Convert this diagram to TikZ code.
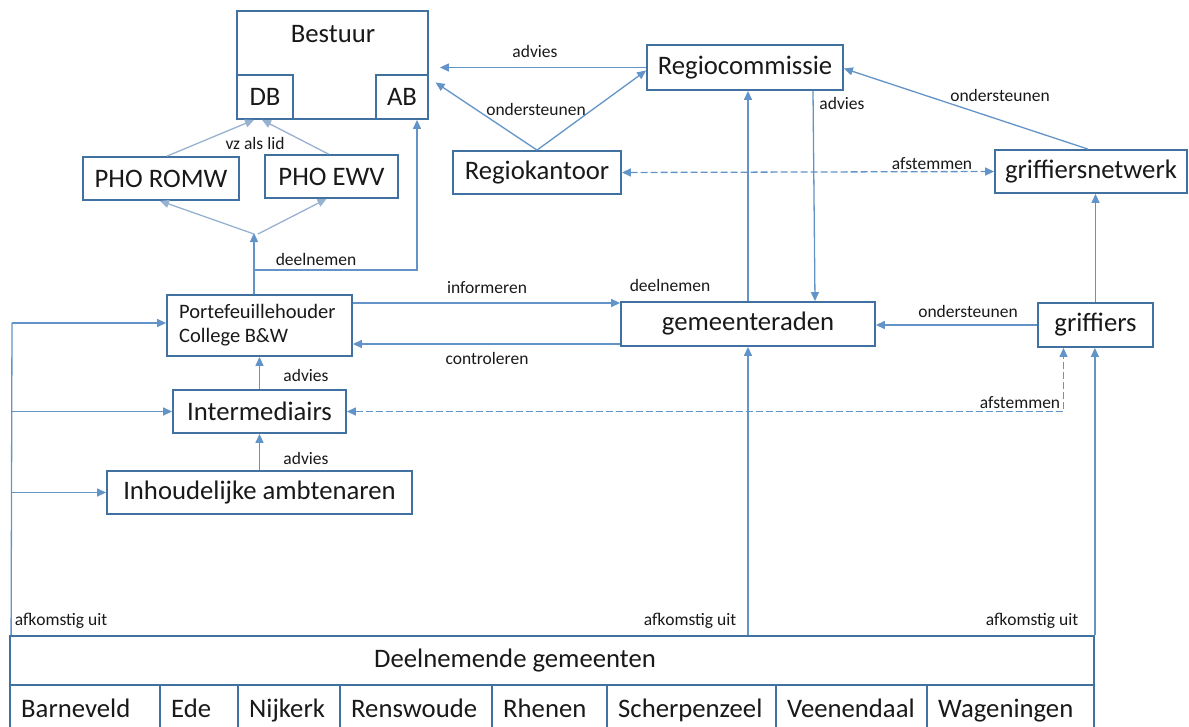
\documentclass[tikz,border=0pt]{standalone}
\usepackage{fontspec}
\setmainfont{Carlito}
\usetikzlibrary{arrows.meta,calc}
\definecolor{boxc}{RGB}{65,113,160}
\definecolor{arrc}{RGB}{98,148,200}
\definecolor{lightc}{RGB}{150,178,208}
\definecolor{txtc}{RGB}{25,25,25}
\tikzset{
  box/.style={draw=boxc,line width=1.8pt,fill=white,inner sep=0pt,text=txtc,font=\fontsize{26.7}{30}\selectfont},
  cell/.style={draw=boxc,line width=1.8pt,fill=white,inner sep=0pt,text=txtc,font=\fontsize{26.7}{30}\selectfont},
  lbl/.style={text=txtc,inner sep=0pt,font=\fontsize{17.5}{20}\selectfont},
  big/.style={text=txtc,inner sep=0pt,font=\fontsize{26.7}{30}\selectfont},
  arr/.style={draw=arrc,line width=1.3pt,-{Triangle[length=9pt,width=8pt]}},
  thin/.style={draw=arrc,line width=1.3pt},
  larr/.style={draw=lightc,line width=1.3pt,-{Triangle[length=9pt,width=8pt]}},
  darr/.style={draw=arrc,line width=1.3pt,dash pattern=on 7pt off 3pt,{Triangle[length=9pt,width=8pt]}-{Triangle[length=9pt,width=8pt]}},
}
\begin{document}
\begin{tikzpicture}[x=1pt,y=-1pt]
\useasboundingbox (0,0) rectangle (1189,726);
% Bestuur
\node[box,minimum width=191pt,minimum height=108pt] (bestuur) at (332.5,65) {};
\node[big] (bestuurtxt) at (333,34) {Bestuur};
\node[box,minimum width=56pt,minimum height=44pt] (db) at (265,97) {DB};
\node[box,minimum width=52pt,minimum height=44pt] (ab) at (402,97) {AB};
% PHO
\node[box,minimum width=156pt,minimum height=43pt] (romw) at (161,178.5) {PHO ROMW};
\node[box,minimum width=133pt,minimum height=43pt] (ewv) at (331.5,176.5) {PHO EWV};
% Regio
\node[box,minimum width=196pt,minimum height=45pt] (regio) at (745,67.5) {Regiocommissie};
\node[box,minimum width=168pt,minimum height=43pt] (rk) at (537,172.5) {Regiokantoor};
\node[box,minimum width=192pt,minimum height=43pt] (gn) at (1091,171.5) {griffiersnetwerk};
% middle
\node[box,minimum width=185pt,minimum height=61pt] (pf) at (259.5,325.5) {};
\node[text=txtc,inner sep=0pt,align=left,anchor=west,font=\fontsize{20.5}{24}\selectfont] (pftxt) at (179,325.5) {Portefeuillehouder\\College B\&W};
\node[box,minimum width=254pt,minimum height=44pt] (gr) at (748,324) {gemeenteraden};
\node[box,minimum width=115pt,minimum height=44pt] (gf) at (1095.5,325) {griffiers};
\node[box,minimum width=173pt,minimum height=43pt] (im) at (259.5,411.5) {Intermediairs};
\node[box,minimum width=305pt,minimum height=43pt] (inh) at (259.5,492.5) {Inhoudelijke ambtenaren};
% bottom
\node[box,minimum width=1084pt,minimum height=49pt] (dg) at (552,660.5) {};
\node[big] (dgtxt) at (515,660.5) {Deelnemende gemeenten};
\foreach \a/\b/\t [count=\i] in {10/160/Barneveld,160/238/Ede,238/340/Nijkerk,340/492/Renswoude,492/607/Rhenen,607/776/Scherpenzeel,776/927/Veenendaal,927/1094/Wageningen}{
  \pgfmathsetmacro{\w}{\b-\a}
  \pgfmathsetmacro{\m}{(\a+\b)/2}
  \pgfmathsetmacro{\tx}{\a+11}
  \node[cell,minimum width=\w pt,minimum height=46pt] (c\i) at (\m,708) {};
  \node[big,anchor=base west] (ct\i) at (\tx,717) {\t};
}
% Bestuur connections
\draw[arr,shorten >=11pt] (regio.west) -- (regio.west -| bestuur.east);
\node[lbl] (l1) at (535,51) {advies};
\draw[arr,shorten >=8pt] (rk.north) -- ([yshift=-13pt]bestuur.east);
\draw[arr] (rk.north) -- ([yshift=-3pt]regio.west);
\node[lbl] (l2) at (536,109) {ondersteunen};
\draw[darr] (rk.east) -- (gn.west);
\node[lbl] (l3) at (932,164) {afstemmen};
\draw[arr] ([xshift=-3pt]gn.north) -- ([yshift=-1pt]regio.east);
\node[lbl] (l4) at (1000,95) {ondersteunen};
\draw[arr] ([xshift=68pt]regio.south) -- ([xshift=67pt]gr.north);
\node[lbl] (l5) at (842,103) {advies};
\draw[arr] (gr.north) -- (gr.north |- regio.south);
\node[lbl] (l6) at (670,285) {deelnemen};
\draw[arr] (gf.west) -- (gf.west -| gr.east);
\node[lbl] (l7) at (968,311) {ondersteunen};
\draw[arr] (gf.north) -- (gf.north |- gn.south);
% PHO / DB
\draw[larr] ([xshift=6pt]romw.north) -- ([xshift=-11pt]db.south);
\draw[larr] ([xshift=-3pt]ewv.north) -- ([xshift=-3pt]db.south);
\node[lbl] (l8) at (255,143) {vz als lid};
\coordinate (J) at (254,233);
\draw[arr] ([xshift=-5.5pt]pf.north) -- (J);
\draw[larr] ([yshift=-1pt]J) -- ([xshift=-1pt]romw.south);
\draw[larr] ([xshift=4pt,yshift=-1pt]J) -- ([xshift=-5pt]ewv.south);
\coordinate (K) at (254,270);
\draw[arr] (K) -- ([xshift=15pt]ab.south |- K) -- ([xshift=15pt]ab.south);
\node[lbl] (l9) at (316,259) {deelnemen};
% pf <-> gr
\draw[arr] ([yshift=22.5pt]pf.east) -- ([yshift=22.5pt]pf.east -| gr.west);
\node[lbl] (l10) at (487,288) {informeren};
\draw[arr] ([yshift=-20pt]gr.west) -- ([yshift=-20pt]gr.west -| pf.east);
\node[lbl] (l11) at (487,358) {controleren};
\draw[arr] (im.north) -- (pf.south);
\node[lbl] (l12) at (306,375) {advies};
\draw[arr] (inh.north) -- (im.south);
\node[lbl] (l13) at (306,458) {advies};
% dashed afstemmen
\coordinate (G) at ([xshift=-32pt]gf.south);
\draw[darr] (im.east) -- (im.east -| G) -- (G);
\node[lbl] (l14) at (1020,403) {afstemmen};
% left bus
\coordinate (B) at (12,323);
\draw[thin] ([xshift=2pt]dg.north west) -- (B);
\draw[arr] (B) -- (B -| pf.west);
\draw[arr] (B |- im.west) -- (im.west);
\draw[arr] (B |- inh.west) -- (inh.west);
% from Deelnemende
\draw[arr] (dg.north -| gr.south) -- (gr.south);
\draw[arr] (dg.north east) -- (dg.north east |- gf.south);
\node[lbl] (l15) at (61,621) {afkomstig uit};
\node[lbl] (l16) at (690,621) {afkomstig uit};
\node[lbl] (l17) at (1032,621) {afkomstig uit};
\end{tikzpicture}
\end{document}
